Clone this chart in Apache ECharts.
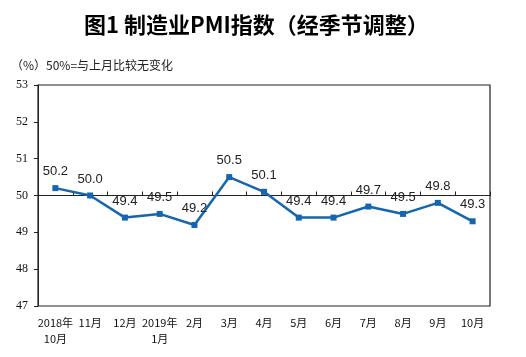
<!DOCTYPE html>
<html><head><meta charset="utf-8">
<script src="https://cdn.jsdelivr.net/npm/echarts@6/dist/echarts.min.js"></script>
<style>html,body{margin:0;padding:0;background:#fff}#c{width:526px;height:357px}</style>
</head><body><div id="c"></div>
<script>
var categories = ['2018年\n10月','11月','12月','2019年\n1月','2月','3月','4月','5月','6月','7月','8月','9月','10月'];
var pmi = [50.2, 50.0, 49.4, 49.5, 49.2, 50.5, 50.1, 49.4, 49.4, 49.7, 49.5, 49.8, 49.3];
var yMin = 47, yMax = 53, yStep = 1;
var titleText = '图1 制造业PMI指数（经季节调整）';
var noteText = '（%）50%=与上月比较无变化';

var gridTop = 85, gridBottom = 51, chartH = 357;
var plotH = chartH - gridTop - gridBottom;
var midOffset = -plotH * (50 - yMin) / (yMax - yMin);

var chart = echarts.init(document.getElementById('c'));
chart.setOption({
  animation: false,
  backgroundColor: '#fff',
  graphic: [
    {type:'text', left: 84, top: 14, style:{text: titleText, font:'bold 22px "Noto Sans CJK SC"', fill:'#000'}},
    {type:'text', left: 11, top: 59, style:{text: noteText, font:'12px "Noto Sans CJK SC"', fill:'#222'}}
  ],
  grid: {left: 38, right: 36, top: gridTop, bottom: gridBottom, show: true, borderColor: '#222', borderWidth: 1.2, backgroundColor: 'transparent'},
  xAxis: [{
    type: 'category', data: categories, boundaryGap: true,
    axisLine: {show: false}, axisTick: {show: false},
    axisLabel: {interval: 0, fontSize: 11, color: '#111', fontFamily: '"Noto Sans CJK SC"', margin: 9, lineHeight: 16}
  },{
    type: 'category', data: categories, boundaryGap: true, position: 'bottom', offset: midOffset,
    axisLine: {show: true, lineStyle: {color: '#222', width: 1}},
    axisTick: {show: true, inside: true, length: 4, interval: 0, lineStyle: {color: '#222'}},
    axisLabel: {show: false}
  }],
  yAxis: {
    type: 'value', min: yMin, max: yMax, interval: yStep,
    splitLine: {show: false},
    axisLine: {show: true, lineStyle: {color: '#222'}},
    axisTick: {show: true, length: 4, lineStyle: {color: '#222'}},
    axisLabel: {fontSize: 12, color: '#111', fontFamily: '"Liberation Serif"', margin: 10}
  },
  series: [{
    type: 'line', data: pmi, xAxisIndex: 0,
    symbol: 'rect', symbolSize: 6,
    lineStyle: {color: '#1565b0', width: 2.5},
    itemStyle: {color: '#1565b0'},
    label: {show: true, position: 'top', distance: 7, fontSize: 13, color: '#222', fontFamily: '"Liberation Sans"', formatter: function(p){return p.value.toFixed(1);}}
  }]
});
</script></body></html>
